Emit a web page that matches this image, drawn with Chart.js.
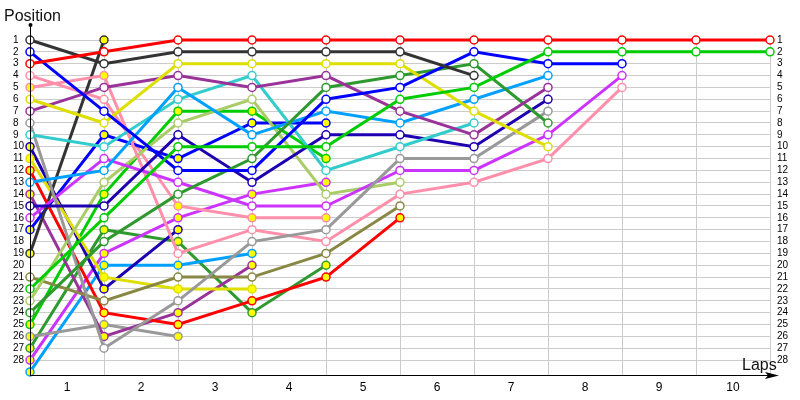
<!DOCTYPE html>
<html>
<head>
<meta charset="utf-8">
<script src="https://cdn.jsdelivr.net/npm/chart.js@4/dist/chart.umd.min.js"></script>
<style>
  html, body { margin: 0; padding: 0; background: #ffffff; }
  #c { display: block; }
</style>
</head>
<body>
<canvas id="c" width="800" height="400" style="width:800px;height:400px"></canvas>
<script>
// ---- data: lap index 0 = start grid, then laps 1..10 ----
const laps = [0, 1, 2, 3, 4, 5, 6, 7, 8, 9, 10];
const lapLabels = ['', '1', '2', '3', '4', '5', '6', '7', '8', '9', '10'];
const positionTicks = [1,2,3,4,5,6,7,8,9,10,11,12,13,14,15,16,17,18,19,20,21,22,23,24,25,26,27,28];

// position of each car after each lap (series stop when the car retires)
const red1       = [3, 2, 1, 1, 1, 1, 1, 1, 1, 1, 1];
const red2       = [12, 24, 25, 23, 21, 16];
const darkGray1  = [1, 3, 2, 2, 2, 2, 4];
const darkGray2  = [19, 1];
const blue1      = [2, 7, 12, 12, 6, 5, 2, 3, 3];
const blue2      = [17, 9, 11, 8, 8];
const pinkA      = [5, 4, 19, 17, 18, 14, 13, 11, 5];
const pinkB      = [4, 6, 15, 16, 16];
const yellow1    = [6, 8, 3, 3, 3, 3, 7, 10];
const yellow2    = [11, 21, 22, 22];
const purple1    = [7, 5, 4, 5, 4, 7, 9, 5];
const purple2    = [14, 26, 24, 20];
const gray1      = [8, 27, 23, 18, 17, 11, 11, 7];
const gray2      = [26, 25, 26];
const teal1      = [9, 10, 6, 4, 12, 10, 8];
const navy1      = [15, 15, 9, 13, 9, 9, 10, 6];
const navy2      = [10, 22, 17];
const lightBlue1 = [13, 12, 5, 9, 7, 8, 6, 4];
const lightBlue2 = [29, 20, 20, 19];
const violet1    = [16, 11, 13, 15, 15, 12, 12, 9, 4];
const violet2    = [28, 19, 16, 14, 13];
const green1     = [22, 16, 10, 10, 10, 6, 5, 2, 2, 2, 2];
const green2     = [25, 14, 7, 7, 11];
const darkGreen1 = [24, 18, 14, 11, 5, 4, 3, 8];
const darkGreen2 = [27, 17, 18, 24, 20];
const olive1     = [21, 23, 21, 21, 19, 15];
const khaki1     = [23, 13, 8, 6, 14, 13];

// which markers are the yellow-filled (second car) kind, where it changes along a line
const pinkAMarks = [1, 1, 0, 0, 0, 0, 0, 0, 0];
const pinkBMarks = [0, 0, 1, 1, 1];

// ---- styling ----
const C = {
  red: '#ff0000', darkGray: '#333333', blue: '#0000ff', pink: '#ff8faa',
  yellow: '#dede00', purple: '#993399', gray: '#999999', teal: '#33cccc',
  navy: '#1f00b0', lightBlue: '#00a0ff', violet: '#cc33ff', green: '#00cc00',
  darkGreen: '#2e992e', olive: '#888844', khaki: '#aacc66'
};
const FIRST = '#ffffff', SECOND = '#ffff00';

const series = [
  [red1, C.red, FIRST], [darkGray1, C.darkGray, FIRST], [green1, C.green, FIRST],
  [blue1, C.blue, FIRST], [yellow1, C.yellow, FIRST], [purple1, C.purple, FIRST],
  [darkGreen1, C.darkGreen, FIRST], [lightBlue1, C.lightBlue, FIRST], [teal1, C.teal, FIRST],
  [navy1, C.navy, FIRST], [gray1, C.gray, FIRST], [violet1, C.violet, FIRST],
  [pinkA, C.pink, pinkAMarks], [khaki1, C.khaki, FIRST], [olive1, C.olive, FIRST],
  [red2, C.red, SECOND], [darkGray2, C.darkGray, SECOND], [blue2, C.blue, SECOND],
  [pinkB, C.pink, pinkBMarks], [yellow2, C.yellow, SECOND], [purple2, C.purple, SECOND],
  [gray2, C.gray, SECOND], [navy2, C.navy, SECOND], [lightBlue2, C.lightBlue, SECOND],
  [violet2, C.violet, SECOND], [green2, C.green, SECOND], [darkGreen2, C.darkGreen, SECOND]
];

const datasets = series.map(([vals, col, fill]) => ({
  data: vals.map((p, i) => ({ x: laps[i], y: p })),
  borderColor: col,
  backgroundColor: col,
  borderWidth: 3,
  pointRadius: 4,
  pointBorderWidth: 1.5,
  pointBorderColor: col,
  pointBackgroundColor: Array.isArray(fill) ? fill.map(m => (m ? SECOND : FIRST)) : fill,
  tension: 0,
  clip: false
}));

const decor = {
  id: 'decor',
  afterDraw(chart) {
    const ctx = chart.ctx;
    const a = chart.chartArea;
    ctx.save();
    ctx.strokeStyle = '#000';
    ctx.fillStyle = '#000';
    ctx.lineWidth = 1;
    // y axis with arrow tip
    ctx.beginPath();
    ctx.moveTo(a.left + 0.5, a.bottom + 0.5);
    ctx.lineTo(a.left + 0.5, 25);
    ctx.stroke();
    ctx.beginPath();
    ctx.arc(a.left + 0.5, 25, 2, 0, Math.PI * 2);
    ctx.fill();
    // x axis with arrow head
    ctx.beginPath();
    ctx.moveTo(a.left, a.bottom + 0.5);
    ctx.lineTo(772, a.bottom + 0.5);
    ctx.stroke();
    ctx.beginPath();
    ctx.moveTo(779, a.bottom + 0.5);
    ctx.lineTo(765, a.bottom - 3);
    ctx.lineTo(768, a.bottom + 0.5);
    ctx.lineTo(765, a.bottom + 4);
    ctx.closePath();
    ctx.fill();
    // axis titles
    ctx.font = '16px "Liberation Sans", Arial, sans-serif';
    ctx.fillStyle = '#111';
    ctx.textAlign = 'left';
    ctx.textBaseline = 'alphabetic';
    ctx.fillText('Position', 4, 21);
    ctx.fillText('Laps', 742, 370);
    ctx.restore();
  }
};

const yTicksFont = { family: '"Liberation Sans", Arial, sans-serif', size: 10 };

new Chart(document.getElementById('c'), {
  type: 'line',
  data: { datasets },
  options: {
    responsive: false,
    animation: false,
    devicePixelRatio: 1,
    layout: { padding: { left: 13, right: 0, top: 40, bottom: 0 } },
    plugins: { legend: { display: false }, tooltip: { enabled: false } },
    scales: {
      x: {
        type: 'linear', min: 0, max: 10,
        afterBuildTicks: s => { s.ticks = laps.map(v => ({ value: v })); },
        afterFit: s => { s.height = 25; },
        grid: { color: '#cccccc', drawTicks: false },
        border: { display: false },
        ticks: {
          autoSkip: false, maxRotation: 0, labelOffset: -37, padding: 5,
          color: '#000', font: { family: '"Liberation Sans", Arial, sans-serif', size: 12 },
          callback: (v, i) => lapLabels[i]
        }
      },
      y: {
        type: 'linear', position: 'left', reverse: true, min: 1, max: 29.256,
        afterBuildTicks: s => { s.ticks = positionTicks.map(v => ({ value: v })); },
        afterFit: s => { s.width = 17; },
        grid: { color: '#cccccc', drawTicks: false },
        border: { display: false },
        ticks: { autoSkip: false, crossAlign: 'far', padding: 0, color: '#000', font: yTicksFont,
                 callback: v => String(v) }
      },
      y2: {
        type: 'linear', position: 'right', reverse: true, min: 1, max: 29.256,
        afterBuildTicks: s => { s.ticks = positionTicks.map(v => ({ value: v })); },
        afterFit: s => { s.width = 30; },
        grid: { display: false, drawTicks: false },
        border: { display: false },
        ticks: { autoSkip: false, padding: 7, color: '#000', font: yTicksFont,
                 callback: v => String(v) }
      }
    }
  },
  plugins: [decor]
});
</script>
</body>
</html>
